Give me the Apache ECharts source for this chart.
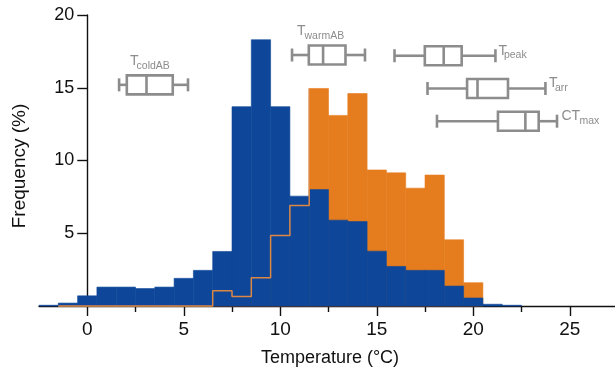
<!DOCTYPE html>
<html>
<head>
<meta charset="utf-8">
<script src="https://cdn.jsdelivr.net/npm/echarts@6/dist/echarts.min.js"></script>
<style>
  html, body { margin: 0; padding: 0; background: #fff; }
  #main { width: 615px; height: 378px; }
</style>
</head>
<body>
<div id="main"></div>
<script>
// histogram bins, centred on whole degrees (1 °C wide)
const blueBins = [-2, -1, 0, 1, 2, 3, 4, 5, 6, 7, 8, 9, 10, 11, 12, 13, 14, 15, 16, 17, 18, 19, 20, 21, 22]
const blueFreq = [0.05, 0.2, 0.7, 1.3, 1.3, 1.2, 1.3, 1.9, 2.45, 3.75, 13.7, 18.3, 13.7, 7.55, 8.0, 5.9, 5.8, 3.77, 2.72, 2.45, 2.45, 1.37, 0.55, 0.12, 0.05]

const orangeBins = [-1, 0, 1, 2, 3, 4, 5, 6, 7, 8, 9, 10, 11, 12, 13, 14, 15, 16, 17, 18, 19, 20]
const orangeFreq = [0, 0, 0, 0, 0, 0, 0, 0, 1.05, 0.65, 1.95, 4.85, 6.9, 14.95, 13.1, 14.6, 9.35, 9.15, 8.1, 9.0, 4.55, 1.6]

// box plots: [low whisker, q1, median, q3, high whisker], drawn at a frequency level
const boxMain = ['T', 'T', 'T', 'T', 'CT']
const boxSub = ['coldAB', 'warmAB', 'peak', 'arr', 'max']
const boxStats = [
  [1.65, 2.05, 3.07, 4.43, 5.22],
  [10.61, 11.48, 12.22, 13.38, 14.39],
  [15.92, 17.49, 18.47, 19.40, 21.15],
  [17.63, 19.68, 20.22, 21.80, 23.74],
  [18.12, 21.28, 22.70, 23.39, 24.34]
]
const boxLevel = [15.2, 17.25, 17.2, 14.95, 12.7]

const xMajorTicks = [0, 5, 10, 15, 20, 25]
const xMinorTicks = [2.5, 7.5, 12.5, 17.5, 22.5]
const yTicks = [5, 10, 15, 20]

// styling
const BLUE = '#0E4799'
const ORANGE = '#E57C1E'
const OUTLINE = '#DC8844'
const GREY = '#8C8C8C'
const FONT = '"Liberation Sans", Arial, sans-serif'
const labelSide = ['top', 'top', 'right', 'right', 'right']
const labelDx = [11, 5, 3, 3.5, 4.5]
const subDx = [6.5, 7.5, 5.5, 6, 18]

const X_MIN = -2.5, X_MAX = 27.5
const GRID = { left: 39, top: 15, width: 579, height: 291 }
// y axis sits on x = 0, not on the left edge of the grid
const yAxisOffset = -GRID.width * (0 - X_MIN) / (X_MAX - X_MIN)

const chart = echarts.init(document.getElementById('main'))

function histItem (color) {
  return function (params, api) {
    const x = api.value(0)
    const v = api.value(1)
    const p0 = api.coord([x - 0.5, v])
    const p1 = api.coord([x + 0.5, 0])
    return {
      type: 'rect',
      shape: { x: p0[0], y: p0[1], width: p1[0] - p0[0], height: p1[1] - p0[1] },
      style: { fill: color, stroke: color, lineWidth: 0.6 }
    }
  }
}

// orange outline where it sits under the blue bars, then up to the first taller orange bar
function outlinePoints () {
  const pts = []
  for (let i = 0; i < orangeBins.length; i++) {
    const b = orangeBins[i]
    const bi = blueBins.indexOf(b)
    if (orangeFreq[i] > blueFreq[bi]) {
      pts.push([b - 0.5, orangeFreq[i]])
      break
    }
    pts.push([b - 0.5, orangeFreq[i]])
    pts.push([b + 0.5, orangeFreq[i]])
  }
  return pts
}

function boxItem (params, api) {
  const i = params.dataIndex
  const lvl = api.value(5)
  const c = [0, 1, 2, 3, 4].map(k => api.coord([api.value(k), lvl]))
  const y = c[0][1]
  const h = 19, cap = 13
  const ls = { stroke: GREY, lineWidth: 2.6, fill: null }
  const kids = [
    { type: 'line', shape: { x1: c[0][0], y1: y, x2: c[1][0], y2: y }, style: ls },
    { type: 'line', shape: { x1: c[3][0], y1: y, x2: c[4][0], y2: y }, style: ls },
    { type: 'line', shape: { x1: c[0][0], y1: y - cap / 2, x2: c[0][0], y2: y + cap / 2 }, style: ls },
    { type: 'line', shape: { x1: c[4][0], y1: y - cap / 2, x2: c[4][0], y2: y + cap / 2 }, style: ls },
    { type: 'rect', shape: { x: c[1][0], y: y - h / 2, width: c[3][0] - c[1][0], height: h }, style: ls },
    { type: 'line', shape: { x1: c[2][0], y1: y - h / 2, x2: c[2][0], y2: y + h / 2 }, style: ls }
  ]
  let tx, ty, sy
  if (labelSide[i] === 'top') {
    tx = c[0][0] + labelDx[i]
    ty = y - 24
    sy = y - 19
  } else {
    tx = c[4][0] + labelDx[i]
    ty = y - 5
    sy = y - 0.5
  }
  kids.push({ type: 'text', x: tx, y: ty, style: { text: boxMain[i], fill: GREY, font: '14px ' + FONT, align: 'left', verticalAlign: 'middle' } })
  kids.push({ type: 'text', x: tx + subDx[i], y: sy, style: { text: boxSub[i], fill: GREY, font: '10.5px ' + FONT, align: 'left', verticalAlign: 'middle' } })
  return { type: 'group', children: kids }
}

const option = {
  animation: false,
  grid: { left: GRID.left, top: GRID.top, width: GRID.width, height: GRID.height, containLabel: false, outerBoundsMode: 'none' },
  xAxis: [
    {
      type: 'value', min: X_MIN, max: X_MAX, z: 0,
      axisLine: { onZero: false, lineStyle: { color: '#111', width: 1.4 } },
      axisTick: { customValues: xMajorTicks, length: 10, lineStyle: { color: '#111', width: 1.4 } },
      axisLabel: { customValues: xMajorTicks, margin: 14, color: '#111', fontSize: 19, fontFamily: FONT },
      splitLine: { show: false }
    },
    {
      type: 'value', min: X_MIN, max: X_MAX, position: 'bottom', z: 0,
      axisLine: { show: false, onZero: false },
      axisTick: { customValues: xMinorTicks, length: 6, lineStyle: { color: '#111', width: 1.4 } },
      axisLabel: { show: false },
      splitLine: { show: false }
    }
  ],
  yAxis: {
    type: 'value', min: 0, max: 20,
    offset: yAxisOffset,
    axisLine: { show: true, onZero: false, lineStyle: { color: '#111', width: 1.4 } },
    axisTick: { show: true, customValues: yTicks, length: 10, lineStyle: { color: '#111', width: 1.4 } },
    axisLabel: { customValues: yTicks, margin: 13, color: '#111', fontSize: 18, fontFamily: FONT },
    splitLine: { show: false }
  },
  graphic: [
    { type: 'text', x: 20, y: 166, rotation: Math.PI / 2,
      style: { text: 'Frequency (%)', fill: '#111', font: '19px ' + FONT, align: 'center', verticalAlign: 'middle' } },
    { type: 'text', x: 330, y: 358,
      style: { text: 'Temperature (°C)', fill: '#111', font: '18px ' + FONT, align: 'center', verticalAlign: 'middle' } }
  ],
  series: [
    {
      type: 'custom', z: 2,
      renderItem: histItem(ORANGE),
      encode: { x: 0, y: 1 },
      data: orangeBins.map((b, i) => [b, orangeFreq[i]])
    },
    {
      type: 'custom', z: 3,
      renderItem: histItem(BLUE),
      encode: { x: 0, y: 1 },
      data: blueBins.map((b, i) => [b, blueFreq[i]])
    },
    {
      type: 'line', z: 10,
      clip: false,
      showSymbol: false,
      lineStyle: { color: OUTLINE, width: 1.5 },
      data: outlinePoints()
    },
    {
      type: 'custom', z: 5,
      renderItem: boxItem,
      encode: { x: [0, 1, 2, 3, 4], y: 5 },
      data: boxStats.map((s, i) => s.concat([boxLevel[i]]))
    }
  ]
}

chart.setOption(option)
</script>
</body>
</html>
